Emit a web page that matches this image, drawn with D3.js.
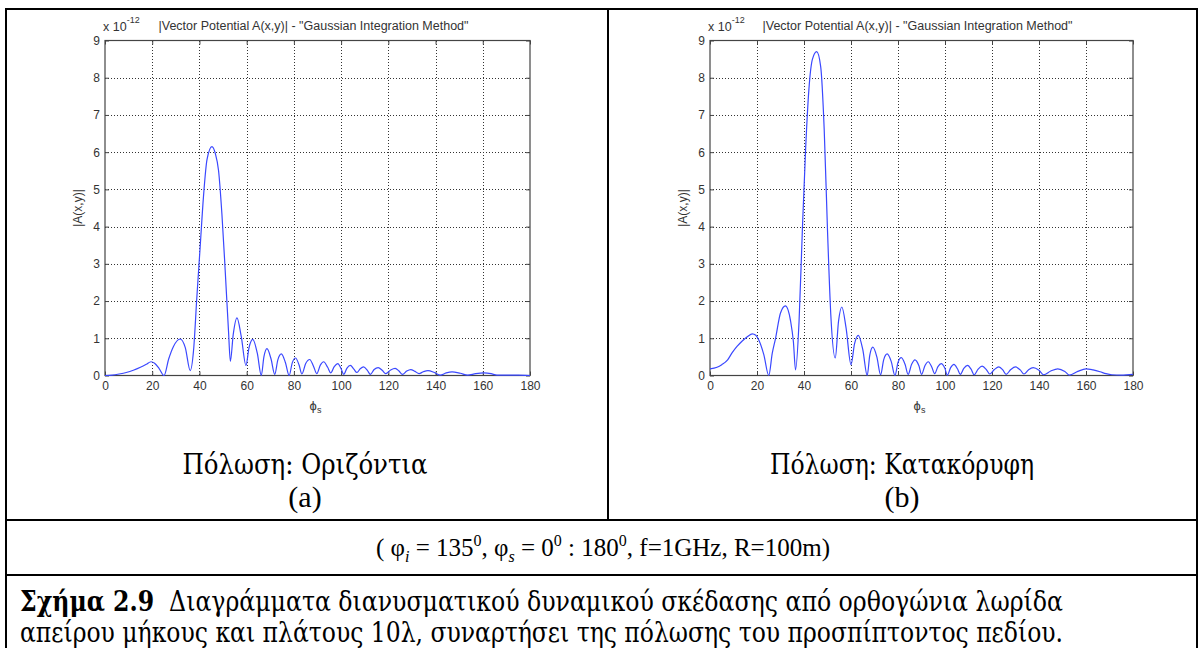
<!DOCTYPE html>
<html>
<head>
<meta charset="utf-8">
<script src="https://cdn.jsdelivr.net/npm/d3@7"></script>
<style>
  html, body { margin: 0; padding: 0; background: #fff; }
  svg { display: block; }
</style>
</head>
<body>
<svg id="chart" width="1203" height="648"></svg>
<script>
// ---------------- DATA ----------------
const xTicks = [0, 20, 40, 60, 80, 100, 120, 140, 160, 180];
const yTicks = [0, 1, 2, 3, 4, 5, 6, 7, 8, 9];
const plotTitle = '|Vector Potential A(x,y)| - "Gaussian Integration Method"';

// (a) horizontal polarization: phi_s (deg) and |A| (x 1e-12)
const phiLeft = [0, 3, 6, 9, 12, 15, 17.5, 19.5, 21, 23, 25, 27, 29, 31.8, 34, 36.1,
  37.5, 38.9, 40.3, 41.7, 43.2, 45.3, 46.7, 48.1, 49.5, 50.9, 52.3, 53.1,
  54.3, 55.9, 57.7, 59.7, 61, 62.6, 64.5, 66.2, 67.3, 68.6, 70.3, 71.9,
  73.2, 74.7, 76.4, 78, 79.3, 80.7, 82.2, 83.4, 85, 86.7, 88.3, 89.7,
  91.2, 92.6, 94.3, 95.6, 97.1, 98.6, 100, 101.1, 102.5, 103.9, 105.4, 106.7,
  108.1, 109.5, 111.1, 112.4, 114, 115.7, 117.4, 118.9, 121, 122.9, 124.5, 126,
  127.8, 129.5, 131.3, 133, 134.8, 136.8, 139.5, 142, 144.5, 147, 150.5, 153.6,
  157, 160.5, 163.5, 166, 170, 175, 180];
const ampLeft = [0, 0.01, 0.04, 0.08, 0.14, 0.22, 0.30, 0.37, 0.33, 0.18, 0.0, 0.45, 0.78, 0.98, 0.75, 0.13,
  0.67, 2.1, 3.45, 4.8, 5.8, 6.15, 5.97, 5.5, 4.35, 2.83, 1.2, 0.38,
  1.1, 1.55, 1.05, 0.27, 0.75, 0.97, 0.6, 0.0, 0.5, 0.72, 0.45, 0.03,
  0.42, 0.58, 0.35, 0.0, 0.34, 0.47, 0.28, 0.04, 0.32, 0.43, 0.25, 0.05,
  0.28, 0.37, 0.22, 0.07, 0.24, 0.32, 0.18, 0.03, 0.2, 0.27, 0.17, 0.08,
  0.18, 0.23, 0.14, 0.03, 0.16, 0.21, 0.14, 0.05, 0.15, 0.19, 0.12, 0.03,
  0.12, 0.16, 0.11, 0.05, 0.10, 0.13, 0.08, 0.01, 0.07, 0.10, 0.06, 0.01,
  0.05, 0.07, 0.05, 0.01, 0.01, 0.01, 0.0];

// (b) vertical polarization
const phiRight = [0, 3, 5, 7.5, 9.3, 11.5, 13.6, 16, 18, 19.5, 20.7, 22.9, 25,
  26.5, 27.9, 30, 32.1, 34.3, 35.5, 36.4,
  37.9, 39.3, 40.7, 42.1, 43.6, 45.4, 47.1, 48.6, 50, 51.4, 53.3,
  54.7, 56.1, 57.9, 60, 61.5, 63.1, 65, 66.9, 68, 69.3, 71, 72.6,
  73.9, 75.4, 77.1, 78.7, 80, 81.4, 83, 84.3, 85.8, 87.2, 88.9, 90,
  91.5, 92.9, 94.4, 95.6, 97, 98.4, 99.9, 101, 102.4, 103.8, 105.3, 106.5,
  108, 109.6, 111.1, 112.4, 114.1, 115.8, 117.6, 119, 121, 122.9, 124.6, 126,
  128, 130, 132, 133.6, 135.5, 137.5, 140, 142, 145, 148, 151, 153,
  156.5, 160, 163, 166, 168.5, 171, 175, 180];
const ampRight = [0.18, 0.22, 0.29, 0.42, 0.6, 0.78, 0.92, 1.05, 1.12, 1.08, 0.96, 0.56, 0.0,
  0.6, 1.0, 1.68, 1.87, 1.46, 0.9, 0.15,
  1.46, 3.9, 6.1, 7.7, 8.5, 8.7, 8.3, 6.6, 3.9, 1.64, 0.47,
  1.46, 1.84, 1.28, 0.29, 0.85, 1.08, 0.7, 0.0, 0.55, 0.76, 0.5, 0.02,
  0.42, 0.58, 0.38, 0.0, 0.35, 0.48, 0.3, 0.03, 0.3, 0.42, 0.26, 0.03,
  0.27, 0.37, 0.22, 0.05, 0.24, 0.32, 0.2, 0.01, 0.21, 0.3, 0.18, 0.03,
  0.19, 0.27, 0.17, 0.02, 0.17, 0.25, 0.16, 0.04, 0.16, 0.23, 0.15, 0.03,
  0.16, 0.23, 0.15, 0.04, 0.15, 0.21, 0.14, 0.02, 0.12, 0.18, 0.11, 0.01,
  0.11, 0.18, 0.15, 0.1, 0.05, 0.02, 0.01, 0.03];

const subLabels = ["Πόλωση: Οριζόντια", "Πόλωση: Κατακόρυφη"];
const panelLetters = ["(a)", "(b)"];
const captionBold = "Σχήμα 2.9";
const captionLine1 = "Διαγράμματα διανυσματικού δυναμικού σκέδασης από ορθογώνια λωρίδα";
const captionLine2 = "απείρου μήκους και πλάτους 10λ, συναρτήσει της πόλωσης του προσπίπτοντος πεδίου.";

// ---------------- DRAW ----------------
const svg = d3.select("#chart");
const sans = "Arial, 'Liberation Sans', Helvetica, sans-serif";
const serif = "'Liberation Serif', 'Times New Roman', serif";
const greekSerif = "'DejaVu Serif Condensed', 'DejaVu Serif', serif";

// frame lines
const frame = svg.append("g").attr("stroke", "#000").attr("stroke-width", 2).attr("fill", "none");
frame.append("line").attr("x1", 6).attr("x2", 6).attr("y1", 8).attr("y2", 648);
frame.append("line").attr("x1", 1197).attr("x2", 1197).attr("y1", 8).attr("y2", 648);
frame.append("line").attr("x1", 6).attr("x2", 1197).attr("y1", 9).attr("y2", 9);
frame.append("line").attr("x1", 608).attr("x2", 608).attr("y1", 9).attr("y2", 520);
frame.append("line").attr("x1", 6).attr("x2", 1197).attr("y1", 520).attr("y2", 520);
frame.append("line").attr("x1", 6).attr("x2", 1197).attr("y1", 575).attr("y2", 575);

function drawPlot(x0, x1, y0, y1, phi, amp) {
  const g = svg.append("g");
  const x = d3.scaleLinear().domain([0, 180]).range([x0, x1]);
  const y = d3.scaleLinear().domain([0, 9]).range([y1, y0]);

  // grid
  const grid = g.append("g").attr("stroke", "#333").attr("stroke-width", 1)
    .attr("stroke-dasharray", "1,2").attr("shape-rendering", "crispEdges");
  grid.selectAll("line.v").data(xTicks.slice(1, -1)).join("line")
    .attr("x1", d => Math.round(x(d)) + 0.5).attr("x2", d => Math.round(x(d)) + 0.5)
    .attr("y1", y0).attr("y2", y1);
  grid.selectAll("line.h").data(yTicks.slice(1, -1)).join("line")
    .attr("y1", d => Math.round(y(d)) + 0.5).attr("y2", d => Math.round(y(d)) + 0.5)
    .attr("x1", x0).attr("x2", x1);

  // axes
  const axB = g.append("g").attr("transform", `translate(0,${y1})`)
    .call(d3.axisBottom(x).tickValues(xTicks).tickSizeInner(-4).tickSizeOuter(0).tickPadding(6));
  const axL = g.append("g").attr("transform", `translate(${x0},0)`)
    .call(d3.axisLeft(y).tickValues(yTicks).tickSizeInner(-4).tickSizeOuter(0).tickPadding(5).tickFormat(d3.format("d")));
  const axT = g.append("g").attr("transform", `translate(0,${y0})`)
    .call(d3.axisTop(x).tickValues(xTicks).tickSizeInner(-4).tickSizeOuter(0).tickFormat(""));
  const axR = g.append("g").attr("transform", `translate(${x1},0)`)
    .call(d3.axisRight(y).tickValues(yTicks).tickSizeInner(-4).tickSizeOuter(0).tickFormat(""));
  [axB, axL, axT, axR].forEach(a => {
    a.select(".domain").remove();
    a.selectAll(".tick line").attr("stroke", "#444");
    a.selectAll(".tick text").attr("fill", "#333").style("font-family", sans).style("font-size", "12px");
  });

  // box
  g.append("rect").attr("x", x0).attr("y", y0).attr("width", x1 - x0).attr("height", y1 - y0)
    .attr("fill", "none").attr("stroke", "#444").attr("stroke-width", 1.2);

  // curve
  const data = phi.map((p, i) => [p, amp[i]]);
  const line = d3.line().x(d => x(d[0])).y(d => y(d[1])).curve(d3.curveMonotoneX);
  g.append("path").datum(data).attr("d", line)
    .attr("fill", "none").attr("stroke", "#3a48ff").attr("stroke-width", 1.2);

  // exponent
  const ex = g.append("text").attr("x", x0 - 2).attr("y", 31).attr("fill", "#333")
    .style("font-family", sans).style("font-size", "12.5px");
  ex.append("tspan").text("x 10");
  ex.append("tspan").attr("dy", -8).style("font-size", "9px").text("-12");

  // title
  g.append("text").attr("x", (x0 + x1) / 2 - 4).attr("y", 30).attr("text-anchor", "middle")
    .attr("fill", "#333").style("font-family", sans).style("font-size", "12.5px").text(plotTitle);

  // y label
  g.append("text").attr("transform", `translate(${x0 - 23},${(y0 + y1) / 2}) rotate(-90)`)
    .attr("text-anchor", "middle").attr("fill", "#333")
    .style("font-family", sans).style("font-size", "12px").text("|A(x,y)|");

  // x label
  const xl = g.append("text").attr("x", (x0 + x1) / 2 - 2).attr("y", 410).attr("text-anchor", "middle")
    .attr("fill", "#333").style("font-family", sans).style("font-size", "13px");
  xl.append("tspan").text("ϕ");
  xl.append("tspan").attr("dy", 3).style("font-size", "9px").text("s");
}

drawPlot(105, 530, 40.5, 375.5, phiLeft, ampLeft);
drawPlot(710, 1133, 40.5, 375.5, phiRight, ampRight);

// sub labels
const centers = [305, 902];
const subWidths = [245, 264];
centers.forEach((cx, i) => {
  svg.append("text").attr("x", cx).attr("y", 474).attr("text-anchor", "middle")
    .attr("textLength", subWidths[i]).attr("lengthAdjust", "spacingAndGlyphs")
    .style("font-family", greekSerif).style("font-size", "28px").text(subLabels[i]);
  svg.append("text").attr("x", cx).attr("y", 507).attr("text-anchor", "middle")
    .style("font-family", serif).style("font-size", "30px").text(panelLetters[i]);
});

// parameter line
const pl = svg.append("text").attr("x", 603).attr("y", 556).attr("text-anchor", "middle")
  .style("font-family", serif).style("font-size", "25px");
pl.append("tspan").text("( φ");
pl.append("tspan").attr("dy", 6).style("font-size", "16px").style("font-style", "italic").text("i");
pl.append("tspan").attr("dy", -6).text(" = 135");
pl.append("tspan").attr("dy", -10).style("font-size", "16px").text("0");
pl.append("tspan").attr("dy", 10).text(", φ");
pl.append("tspan").attr("dy", 6).style("font-size", "16px").style("font-style", "italic").text("s");
pl.append("tspan").attr("dy", -6).text(" = 0");
pl.append("tspan").attr("dy", -10).style("font-size", "16px").text("0");
pl.append("tspan").attr("dy", 10).text(" : 180");
pl.append("tspan").attr("dy", -10).style("font-size", "16px").text("0");
pl.append("tspan").attr("dy", 10).text(", f=1GHz, R=100m)");

// caption
const c1 = svg.append("text").attr("x", 20).attr("y", 611)
  .attr("textLength", 1043).attr("lengthAdjust", "spacingAndGlyphs")
  .style("font-family", greekSerif).style("font-size", "27px");
c1.append("tspan").style("font-weight", "bold").text(captionBold);
c1.append("tspan").text("\u00a0 " + captionLine1);
svg.append("text").attr("x", 20).attr("y", 642)
  .attr("textLength", 1043).attr("lengthAdjust", "spacingAndGlyphs")
  .style("font-family", greekSerif).style("font-size", "27px").text(captionLine2);
</script>
</body>
</html>
